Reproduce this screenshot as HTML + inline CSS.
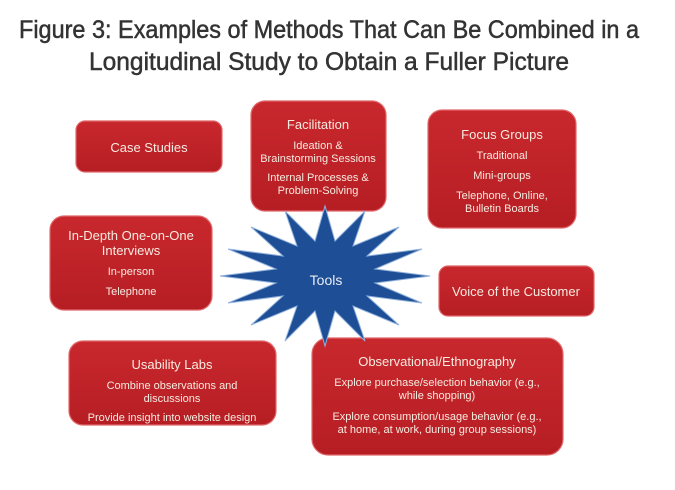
<!DOCTYPE html>
<html><head><meta charset="utf-8"><style>
html,body{margin:0;padding:0;background:#fff;}
svg{display:block;font-family:"Liberation Sans",sans-serif;}
.t{fill:#f6ebe0;text-anchor:middle;}
.h{font-size:13px;}
.s{font-size:11px;}
</style></head><body>
<svg width="675" height="490" viewBox="0 0 675 490">
<defs>
<linearGradient id="r" x1="0" y1="0" x2="0" y2="1">
<stop offset="0" stop-color="#c8282d"/><stop offset="1" stop-color="#b61e24"/>
</linearGradient>
</defs>
<text x="329" y="38" font-size="25" fill="#333" stroke="#333" stroke-width="0.5" text-anchor="middle" textLength="620" lengthAdjust="spacingAndGlyphs">Figure 3: Examples of Methods That Can Be Combined in a</text>
<text x="329" y="70" font-size="25" fill="#333" stroke="#333" stroke-width="0.5" text-anchor="middle" textLength="480" lengthAdjust="spacingAndGlyphs">Longitudinal Study to Obtain a Fuller Picture</text>

<g fill="url(#r)" stroke="#e0686a" stroke-width="1.2">
<rect x="76" y="121" width="146" height="51" rx="9"/>
<rect x="251" y="101" width="135" height="110" rx="14"/>
<rect x="428" y="110" width="148" height="118" rx="14"/>
<rect x="50" y="216" width="162" height="94" rx="14"/>
<rect x="439" y="266" width="155" height="50" rx="9"/>
<rect x="69" y="341" width="207" height="84" rx="14"/>
<rect x="312" y="338" width="251" height="117" rx="16"/>
</g>

<polygon fill="#1e4e95" stroke="#8fb0dc" stroke-width="1" points="430,276 375,283 422,303 367,296 399,325 353,306 365,341 335,311 325,346 315,311 285,341 297,306 251,325 283,296 228,303 276,283 220,276 276,269 228,249 283,256 251,227 297,246 285,211 315,241 325,206 335,241 365,211 353,246 399,227 367,256 422,249 375,269"/>
<text x="326" y="285" font-size="14" fill="#e8ecf5" text-anchor="middle">Tools</text>

<text class="t h" x="149" y="152">Case Studies</text>

<text class="t h" x="318" y="129">Facilitation</text>
<text class="t s" x="318" y="149">Ideation &amp;</text>
<text class="t s" x="318" y="162">Brainstorming Sessions</text>
<text class="t s" x="318" y="181">Internal Processes &amp;</text>
<text class="t s" x="318" y="194">Problem-Solving</text>

<text class="t h" x="502" y="139">Focus Groups</text>
<text class="t s" x="502" y="159">Traditional</text>
<text class="t s" x="502" y="179">Mini-groups</text>
<text class="t s" x="502" y="199">Telephone, Online,</text>
<text class="t s" x="502" y="212">Bulletin Boards</text>

<text class="t h" x="131" y="240">In-Depth One-on-One</text>
<text class="t h" x="131" y="255">Interviews</text>
<text class="t s" x="131" y="275">In-person</text>
<text class="t s" x="131" y="295">Telephone</text>

<text class="t h" x="516" y="296">Voice of the Customer</text>

<text class="t h" x="172" y="369">Usability Labs</text>
<text class="t s" x="172" y="389">Combine observations and</text>
<text class="t s" x="172" y="402">discussions</text>
<text class="t s" x="172" y="421">Provide insight into website design</text>

<text class="t h" x="437" y="366">Observational/Ethnography</text>
<text class="t s" x="437" y="386">Explore purchase/selection behavior (e.g.,</text>
<text class="t s" x="437" y="399">while shopping)</text>
<text class="t s" x="437" y="420">Explore consumption/usage behavior (e.g.,</text>
<text class="t s" x="437" y="433">at home, at work, during group sessions)</text>
</svg>
</body></html>
